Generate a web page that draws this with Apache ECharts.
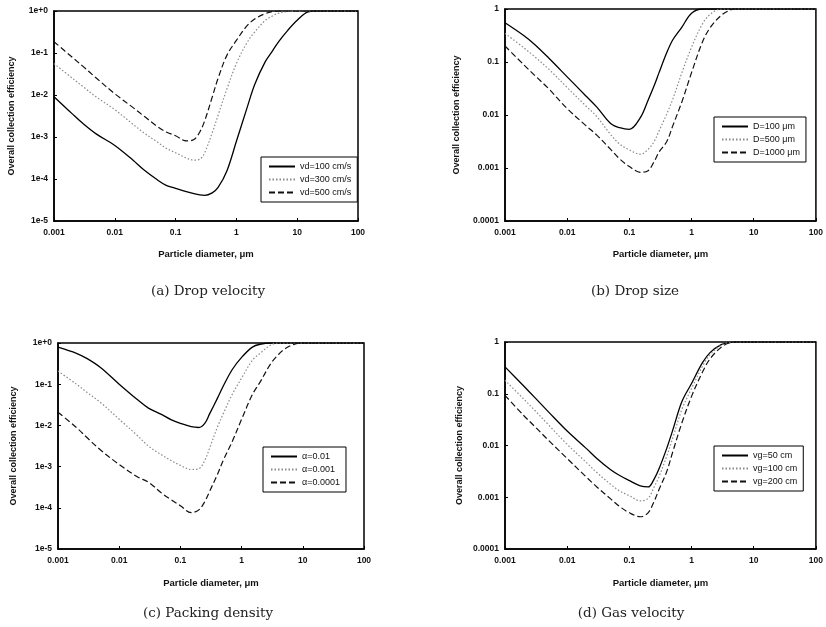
<!DOCTYPE html>
<html><head><meta charset="utf-8">
<script src="https://cdn.jsdelivr.net/npm/echarts@6/dist/echarts.min.js"></script>
<style>html,body{margin:0;padding:0;background:#fff}#c{width:826px;height:627px}</style>
</head><body><div id="c"></div>
<script>
// Particle diameter grid (µm)
var diam = [0.001,0.002,0.003,0.005,0.01,0.02,0.03,0.05,0.07,0.1,0.15,0.2,0.25,0.3,0.4,0.5,0.7,1,1.5,2,3,4,5,7,10,15,20,50,100];

// (a) Drop velocity
var aNames = ['vd=100 cm/s','vd=300 cm/s','vd=500 cm/s'];
var aVd100 = [0.0091,0.00355,0.00209,0.00117,0.00063,0.00028,0.000166,0.0000955,0.0000708,0.00006,0.00005,0.0000447,0.0000417,0.0000407,0.0000468,0.000063,0.000158,0.00079,0.005,0.0178,0.063,0.117,0.19,0.347,0.6,0.955,1,1,1];
var aVd300 = [0.056,0.0251,0.0158,0.0089,0.00447,0.002,0.00126,0.00076,0.00054,0.00042,0.000316,0.000282,0.000295,0.00042,0.00126,0.0033,0.0141,0.056,0.178,0.316,0.6,0.776,0.891,0.977,1,1,1,1,1];
var aVd500 = [0.186,0.079,0.048,0.0251,0.0107,0.005,0.00316,0.00178,0.00132,0.00107,0.00081,0.00087,0.00132,0.0024,0.0089,0.0251,0.089,0.2,0.447,0.646,0.87,0.977,1,1,1,1,1,1,1];

// (b) Drop size
var bNames = ['D=100 μm','D=500 μm','D=1000 μm'];
var bD100 = [0.55,0.316,0.214,0.12,0.0525,0.0229,0.0141,0.0069,0.00575,0.00537,0.0089,0.019,0.0355,0.063,0.151,0.263,0.457,0.83,1,1,1,1,1,1,1,1,1,1,1];
var bD500 = [0.347,0.186,0.126,0.074,0.033,0.0148,0.0093,0.00427,0.00282,0.00219,0.00182,0.00224,0.00316,0.005,0.0105,0.02,0.063,0.19,0.525,0.794,1,1,1,1,1,1,1,1,1];
var bD1000 = [0.2,0.089,0.056,0.0316,0.0132,0.0063,0.00417,0.00224,0.00148,0.00107,0.00083,0.00089,0.00132,0.002,0.00316,0.0063,0.0178,0.063,0.24,0.447,0.76,0.933,1,1,1,1,1,1,1];

// (c) Packing density
var cNames = ['α=0.01','α=0.001','α=0.0001'];
var cA01 = [0.794,0.562,0.417,0.251,0.1,0.0417,0.0263,0.0182,0.0138,0.0112,0.0093,0.0089,0.0112,0.019,0.0447,0.089,0.224,0.447,0.794,0.933,1,1,1,1,1,1,1,1,1];
var cA001 = [0.209,0.1,0.063,0.0355,0.0141,0.0056,0.00316,0.0019,0.00141,0.00107,0.00085,0.00089,0.00141,0.0028,0.0089,0.019,0.056,0.141,0.38,0.562,0.891,1,1,1,1,1,1,1,1];
var cA0001 = [0.0209,0.0089,0.005,0.0025,0.00112,0.00056,0.00042,0.000224,0.000158,0.000112,0.000076,0.000089,0.000141,0.00025,0.00063,0.00141,0.004,0.0141,0.056,0.112,0.316,0.525,0.708,0.912,1,1,1,1,1];

// (d) Gas velocity
var dNames = ['vg=50 cm','vg=100 cm','vg=200 cm'];
var dVg50 = [0.331,0.141,0.085,0.0447,0.019,0.0089,0.0056,0.00339,0.00263,0.00209,0.00166,0.00158,0.00224,0.00355,0.0089,0.02,0.0708,0.158,0.398,0.631,0.891,0.977,1,1,1,1,1,1,1];
var dVg100 = [0.182,0.079,0.048,0.0251,0.0105,0.0048,0.003,0.00178,0.00132,0.00107,0.00085,0.00095,0.00158,0.0025,0.0063,0.0141,0.05,0.126,0.339,0.575,0.871,0.977,1,1,1,1,1,1,1];
var dVg200 = [0.093,0.038,0.0234,0.0126,0.0056,0.0025,0.00158,0.00093,0.00066,0.0005,0.00042,0.0005,0.00083,0.00141,0.00316,0.0076,0.0275,0.089,0.263,0.479,0.794,0.955,1,1,1,1,1,1,1];

var xTickLabels = {'-3':'0.001','-2':'0.01','-1':'0.1','0':'1','1':'10','2':'100'};
var yExpLabels = {'0':'1e+0','-1':'1e-1','-2':'1e-2','-3':'1e-3','-4':'1e-4','-5':'1e-5'};
var yDecLabels = {'0':'1','-1':'0.1','-2':'0.01','-3':'0.001','-4':'0.0001'};
var captions = ['(a) Drop velocity','(b) Drop size','(c) Packing density','(d) Gas velocity'];

var grids = [
  {left:54, top:11, width:304, height:210},
  {left:505, top:9, width:314, height:212},
  {left:58, top:343, width:306, height:206},
  {left:505, top:342, width:313, height:207}
];
var legendPos = [
  {left:261, top:157},
  {left:714, top:117},
  {left:263, top:447},
  {left:714, top:446}
];
var captionPos = [[208,291],[635,291],[208,613],[631,613]];
var yMins = [1e-5,1e-4,1e-5,1e-4];
var yLabelSets = [yExpLabels,yDecLabels,yExpLabels,yDecLabels];
var nameSets = [aNames,bNames,cNames,dNames];
var valueSets = [[aVd100,aVd300,aVd500],[bD100,bD500,bD1000],[cA01,cA001,cA0001],[dVg50,dVg100,dVg200]];
var yNameGaps = [38,44,40,41];
var xNameGaps = [28,28,29,29];

function expOf(v){ return String(Math.round(Math.log(v)/Math.LN10)); }

var styles = [
  {type:'solid', color:'#000', width:1.3},
  {type:[1.5,2], color:'#8a8a8a', width:1.2},
  {type:[6,3], color:'#111', width:1.2}
];

var option = {
  animation:false,
  backgroundColor:'#fff',
  grid: grids.map(function(g){ return Object.assign({show:true, borderColor:'#000', borderWidth:1.5, backgroundColor:'transparent'}, g); }),
  xAxis: grids.map(function(g,i){ return {
    type:'log', logBase:10, gridIndex:i, min:0.001, max:100,
    name:'Particle diameter, μm', nameLocation:'middle', nameGap:xNameGaps[i],
    nameTextStyle:{fontFamily:'Liberation Sans', fontSize:9.5, color:'#111', fontWeight:'bold'},
    axisLine:{show:true, lineStyle:{color:'#000', width:1.5}},
    axisTick:{show:true, inside:true, length:3, lineStyle:{color:'#000'}},
    splitLine:{show:false},
    axisLabel:{fontFamily:'Liberation Sans', fontSize:8.5, color:'#111', fontWeight:'bold', margin:7,
      formatter:function(v){ return xTickLabels[expOf(v)] || ''; }}
  };}),
  yAxis: grids.map(function(g,i){ return {
    type:'log', logBase:10, gridIndex:i, min:yMins[i], max:1,
    name:'Overall collection efficiency', nameLocation:'middle', nameGap:yNameGaps[i], nameRotate:90,
    nameTextStyle:{fontFamily:'Liberation Sans', fontSize:9, color:'#111', fontWeight:'bold'},
    axisLine:{show:true, lineStyle:{color:'#000', width:1.5}},
    axisTick:{show:true, inside:true, length:3, lineStyle:{color:'#000'}},
    splitLine:{show:false},
    axisLabel:{fontFamily:'Liberation Sans', fontSize:8.5, color:'#111', fontWeight:'bold', margin:6,
      formatter:function(v){ return yLabelSets[i][expOf(v)] || ''; }}
  };}),
  legend: legendPos.map(function(p,i){ return {
    left:p.left, top:p.top, orient:'vertical', data:nameSets[i],
    borderColor:'#000', borderWidth:1, padding:[5,6,5,7], itemGap:4,
    itemWidth:26, itemHeight:9, backgroundColor:'#fff',
    itemStyle:{opacity:0},
    textStyle:{fontFamily:'Liberation Sans', fontSize:9, color:'#111'}
  };}),
  graphic: captions.map(function(t,i){ return {
    type:'text', x:captionPos[i][0], y:captionPos[i][1], z:10,
    style:{text:t, font:'13.5px "DejaVu Serif"', fill:'#222', align:'center', verticalAlign:'middle'}
  };}),
  series: []
};

for (var p=0;p<4;p++){
  for (var s=0;s<3;s++){
    var vals = valueSets[p][s];
    option.series.push({
      type:'line', name:nameSets[p][s], xAxisIndex:p, yAxisIndex:p,
      symbol:'none', smooth:0.35, clip:true,
      lineStyle:{type:styles[s].type, color:styles[s].color, width:styles[s].width},
      itemStyle:{color:styles[s].color},
      data: diam.map(function(d,k){ return [d, vals[k]]; })
    });
  }
}

var chart = echarts.init(document.getElementById('c'), null, {renderer:'canvas'});
chart.setOption(option);
</script></body></html>
